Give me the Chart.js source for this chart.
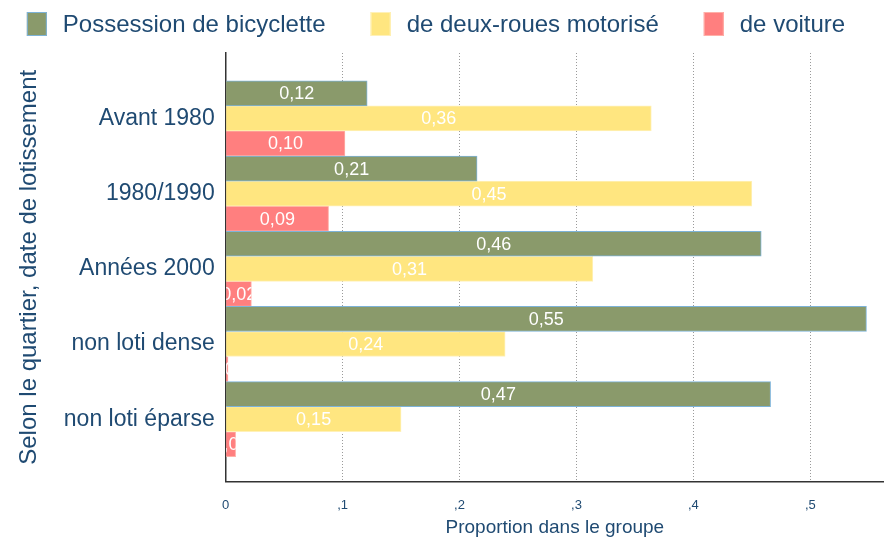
<!DOCTYPE html>
<html>
<head>
<meta charset="utf-8">
<script src="https://cdn.jsdelivr.net/npm/chart.js"></script>
<style>
  body { margin: 0; background: #fff; }
  #wrap { width: 884px; height: 539px; position: relative; }
</style>
</head>
<body>
<div id="wrap"><canvas id="chart"></canvas></div>
<script>
  const groups = ['Avant 1980', '1980/1990', 'Années 2000', 'non loti dense', 'non loti éparse'];
  const seriesNames = ['Possession de bicyclette', 'de deux-roues motorisé', 'de voiture'];
  const bicyclette = [0.121, 0.215, 0.458, 0.548, 0.466];
  const deuxRoues = [0.364, 0.450, 0.314, 0.239, 0.150];
  const voiture = [0.102, 0.088, 0.022, 0.002, 0.0085];
  const xTicks = [0, 0.1, 0.2, 0.3, 0.4, 0.5];

  const textColor = '#1f4a72';
  const fontName = '"Liberation Sans", Arial, sans-serif';

  // bars on a linear y axis so the plot keeps its empty margin above and below
  function points(values) {
    return values.map((v, i) => ({ x: v, y: i }));
  }

  function fmt(v) {
    return v.toFixed(2).replace('.', ',');
  }

  // white value labels in the middle of each bar, clipped to the bar
  const barLabels = {
    id: 'barLabels',
    afterDatasetsDraw(chart) {
      const ctx = chart.ctx;
      chart.data.datasets.forEach((ds, di) => {
        const meta = chart.getDatasetMeta(di);
        meta.data.forEach((bar, i) => {
          const p = bar.getProps(['x', 'y', 'base', 'height'], true);
          const left = Math.min(p.base, p.x);
          const w = Math.abs(p.x - p.base);
          ctx.save();
          ctx.beginPath();
          ctx.rect(left, p.y - p.height / 2, w, p.height);
          ctx.clip();
          ctx.fillStyle = '#ffffff';
          ctx.font = '18px ' + fontName;
          ctx.textAlign = 'center';
          ctx.textBaseline = 'middle';
          ctx.fillText(fmt(ds.data[i].x), left + w / 2, p.y + 1);
          ctx.restore();
        });
      });
    }
  };

  // legend row along the top, spaced like the original
  const topLegend = {
    id: 'topLegend',
    afterDraw(chart) {
      const ctx = chart.ctx;
      const boxW = 20, boxH = 24, gap = 16, itemGap = 45;
      ctx.save();
      ctx.font = '24px ' + fontName;
      const widths = chart.data.datasets.map(ds => ctx.measureText(ds.label).width);
      const total = widths.reduce((a, w) => a + boxW + gap + w, 0) + itemGap * (widths.length - 1);
      let x = 436 - total / 2;
      const cy = 24;
      chart.data.datasets.forEach((ds, i) => {
        ctx.fillStyle = ds.backgroundColor;
        ctx.fillRect(x, cy - boxH / 2, boxW, boxH);
        ctx.strokeStyle = ds.borderColor;
        ctx.lineWidth = 1;
        ctx.strokeRect(x + 0.5, cy - boxH / 2 + 0.5, boxW - 1, boxH - 1);
        ctx.fillStyle = textColor;
        ctx.textBaseline = 'middle';
        ctx.textAlign = 'left';
        ctx.fillText(ds.label, x + boxW + gap, cy + 1);
        x += boxW + gap + widths[i] + itemGap;
      });
      ctx.restore();
    }
  };

  new Chart(document.getElementById('chart'), {
    type: 'bar',
    data: {
      datasets: [
        {
          label: seriesNames[0],
          data: points(bicyclette),
          backgroundColor: '#8a9a6b',
          borderColor: '#7db3d8',
          borderWidth: 1
        },
        {
          label: seriesNames[1],
          data: points(deuxRoues),
          backgroundColor: '#ffe680',
          borderColor: '#fff1b8',
          borderWidth: 1
        },
        {
          label: seriesNames[2],
          data: points(voiture),
          backgroundColor: '#ff7f7f',
          borderColor: '#ffb0a8',
          borderWidth: 1
        }
      ]
    },
    options: {
      indexAxis: 'y',
      responsive: true,
      maintainAspectRatio: false,
      animation: false,
      layout: { padding: { left: 15, right: 0, top: 53, bottom: 0 } },
      datasets: {
        bar: { categoryPercentage: 1, barPercentage: 1 }
      },
      plugins: {
        legend: { display: false },
        tooltip: { enabled: false }
      },
      scales: {
        x: {
          type: 'linear',
          min: 0,
          max: 0.563,
          afterBuildTicks(scale) {
            scale.ticks = xTicks.map(v => ({ value: v }));
          },
          grid: {
            color: '#9a9a9a',
            lineWidth: 1,
            drawTicks: false
          },
          border: {
            display: true,
            color: '#333333',
            width: 1.5,
            dash: [1, 2]
          },
          ticks: {
            color: textColor,
            font: { family: fontName, size: 13 },
            padding: 16,
            callback: v => v === 0 ? '0' : String(Math.round(v * 10) / 10).replace('0.', ',')
          },
          title: {
            display: true,
            text: 'Proportion dans le groupe',
            color: textColor,
            font: { family: fontName, size: 19 },
            padding: { top: -13, bottom: 0 }
          }
        },
        y: {
          type: 'linear',
          reverse: true,
          offset: false,
          min: -0.87,
          max: 4.83,
          afterBuildTicks(scale) {
            scale.ticks = groups.map((g, i) => ({ value: i }));
          },
          grid: { display: false, drawTicks: false, offset: false },
          border: { display: true, color: '#333333', width: 1.5 },
          ticks: {
            color: textColor,
            font: { family: fontName, size: 23 },
            padding: 11,
            callback: v => groups[v]
          },
          title: {
            display: true,
            text: 'Selon le quartier, date de lotissement',
            color: textColor,
            font: { family: fontName, size: 24 },
            padding: { top: 0, bottom: 9 }
          }
        }
      }
    },
    plugins: [barLabels, topLegend]
  });
</script>
</body>
</html>
